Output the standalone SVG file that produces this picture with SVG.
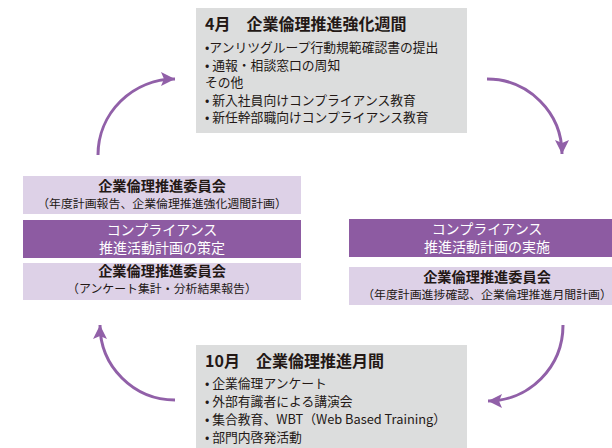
<svg xmlns="http://www.w3.org/2000/svg" width="612" height="448" viewBox="0 0 612 448">
<style>
text{font-family:"Noto Sans CJK JP","Noto Sans",sans-serif;fill:#231815}
.gray{fill:#dcdddd}
.lav{fill:#ddd1e7}
.pur{fill:#8d5ba2}
.ttl{font-size:16px;font-weight:bold}
.li{font-size:12.8px}
.hd{font-size:14.2px;font-weight:bold}
.sub{font-size:11.9px}
.wt{font-size:14px;fill:#ffffff}
.c{text-anchor:middle}
.arr{fill:none;stroke:#9160a8;stroke-width:3}
</style>
<defs>
<marker id="ah" markerUnits="userSpaceOnUse" markerWidth="16" markerHeight="16" refX="14" refY="7" orient="auto" viewBox="0 0 16 14">
<path d="M0,0 L14,7 L0,14 L3,7 Z" fill="#9160a8"/>
</marker>
</defs>
<g id="connectors">
<path class="arr" d="M98,155 A77,76 0 0 1 175,79" marker-end="url(#ah)"/>
<path class="arr" d="M487,79 A75,75 0 0 1 562,154" marker-end="url(#ah)"/>
<path class="arr" d="M563,325 A75,76 0 0 1 488,401" marker-end="url(#ah)"/>
<path class="arr" d="M175,400 A75,75 0 0 1 100,325" marker-end="url(#ah)"/>
</g>
<g id="april">
<rect class="gray" x="196" y="8" width="271" height="125"/>
<text class="ttl" x="205" y="30">4月　企業倫理推進強化週間</text>
<text class="li" x="205" y="52">•アンリツグループ行動規範確認書の提出</text>
<text class="li" x="205" y="69.5">• 通報・相談窓口の周知</text>
<text class="li" x="205" y="87">その他</text>
<text class="li" x="205" y="104.5">• 新入社員向けコンプライアンス教育</text>
<text class="li" x="205" y="122">• 新任幹部職向けコンプライアンス教育</text>
</g>
<g id="october">
<rect class="gray" x="196" y="345" width="271" height="110"/>
<text class="ttl" x="205" y="367">10月　企業倫理推進月間</text>
<text class="li" x="205" y="388">• 企業倫理アンケート</text>
<text class="li" x="205" y="406">• 外部有識者による講演会</text>
<text class="li" x="205" y="424">• 集合教育、WBT（Web Based Training）</text>
<text class="li" x="205" y="441.5">• 部門内啓発活動</text>
</g>
<g id="committee-left-1">
<rect class="lav" x="23" y="176" width="278" height="38"/>
<text class="hd c" x="162" y="190.5">企業倫理推進委員会</text>
<text class="sub c" x="162" y="207.5">（年度計画報告、企業倫理推進強化週間計画）</text>
</g>
<g id="plan-define">
<rect class="pur" x="23" y="220" width="278" height="38"/>
<text class="wt c" x="162" y="234.5">コンプライアンス</text>
<text class="wt c" x="162" y="252.5">推進活動計画の策定</text>
</g>
<g id="committee-left-2">
<rect class="lav" x="23" y="263" width="278" height="37"/>
<text class="hd c" x="162" y="275.5">企業倫理推進委員会</text>
<text class="sub c" x="162" y="292.5">（アンケート集計・分析結果報告）</text>
</g>
<g id="plan-execute">
<rect class="pur" x="349" y="219" width="276" height="38"/>
<text class="wt c" x="487" y="233.5">コンプライアンス</text>
<text class="wt c" x="487" y="251.5">推進活動計画の実施</text>
</g>
<g id="committee-right">
<rect class="lav" x="349" y="267" width="276" height="38"/>
<text class="hd c" x="487" y="281.5">企業倫理推進委員会</text>
<text class="sub c" x="487" y="298.5">（年度計画進捗確認、企業倫理推進月間計画）</text>
</g>
</svg>
